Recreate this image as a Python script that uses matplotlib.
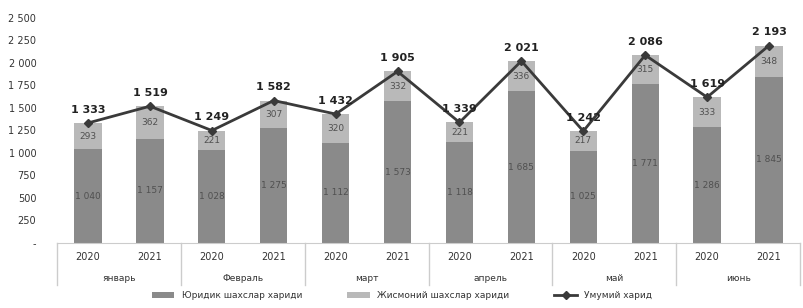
import matplotlib.pyplot as plt
import matplotlib.transforms as mtransforms
import numpy as np

months = ["январь", "Февраль", "март", "апрель", "май", "июнь"]
years = ["2020", "2021"]
total = [1333, 1519, 1249, 1582, 1432, 1905, 1339, 2021, 1242, 2086, 1619, 2193]
physical = [293, 362, 221, 307, 320, 332, 221, 336, 217, 315, 333, 348]
legal = [t - p for t, p in zip(total, physical)]

def fmt(v):
    return "{:,}".format(v).replace(",", " ")

fig = plt.figure(figsize=(8.04, 3.08), dpi=100)
ax = fig.add_axes([0.071, 0.211, 0.924, 0.731])

x = np.arange(len(total))
c_legal = "#8a8a8a"
c_phys = "#b9b9b9"
c_line = "#3a3a3a"

b1 = ax.bar(x, legal, width=0.44, color=c_legal, label="Юридик шахслар хариди")
b2 = ax.bar(x, physical, width=0.44, bottom=legal, color=c_phys, label="Жисмоний шахслар хариди")
l1, = ax.plot(x, total, color=c_line, lw=2, marker="D", markersize=4, label="Умумий харид")

for i in x:
    ax.text(i, legal[i] / 2, fmt(legal[i]), ha="center", va="center", fontsize=6.5, color="#505050")
    ax.text(i, legal[i] + physical[i] / 2, fmt(physical[i]), ha="center", va="center", fontsize=6.5, color="#505050")
    ax.annotate(fmt(total[i]), (i, total[i]), xytext=(0, 6), textcoords="offset points",
                ha="center", va="bottom", fontsize=8, fontweight="bold", color="#222222")

ax.set_xlim(-0.5, len(total) - 0.5)
ax.set_ylim(0, 2500)
yt = np.arange(0, 2501, 250)
ax.set_yticks(yt)
ax.set_yticklabels(["-"] + [fmt(v) for v in yt[1:]], fontsize=7, color="#333333")
ax.tick_params(axis="y", length=0, pad=15)
ax.set_xticks([])
for s in ["left", "right", "top"]:
    ax.spines[s].set_visible(False)
ax.spines["bottom"].set_color("#cccccc")

# two-level category axis
trans = mtransforms.blended_transform_factory(ax.transData, ax.transAxes)
px = 1 / (0.731 * 308)
for i in x:
    ax.text(i, -14 * px, years[i % 2], transform=trans, ha="center", va="center", fontsize=7, color="#333333")
for m, name in enumerate(months):
    ax.text(2 * m + 0.5, -35 * px, name, transform=trans, ha="center", va="center", fontsize=6.5, color="#333333")
for b in np.arange(-0.5, len(total), 2):
    ax.plot([b, b], [0, -42 * px], transform=trans, color="#cccccc", lw=1, clip_on=False)

fig.legend(handles=[b1, b2, l1], loc="lower center", bbox_to_anchor=(0.5, 0.0), ncol=3, frameon=False,
           fontsize=6.5, handlelength=2.5, columnspacing=5, labelcolor="#333333")

plt.savefig("out.png")
